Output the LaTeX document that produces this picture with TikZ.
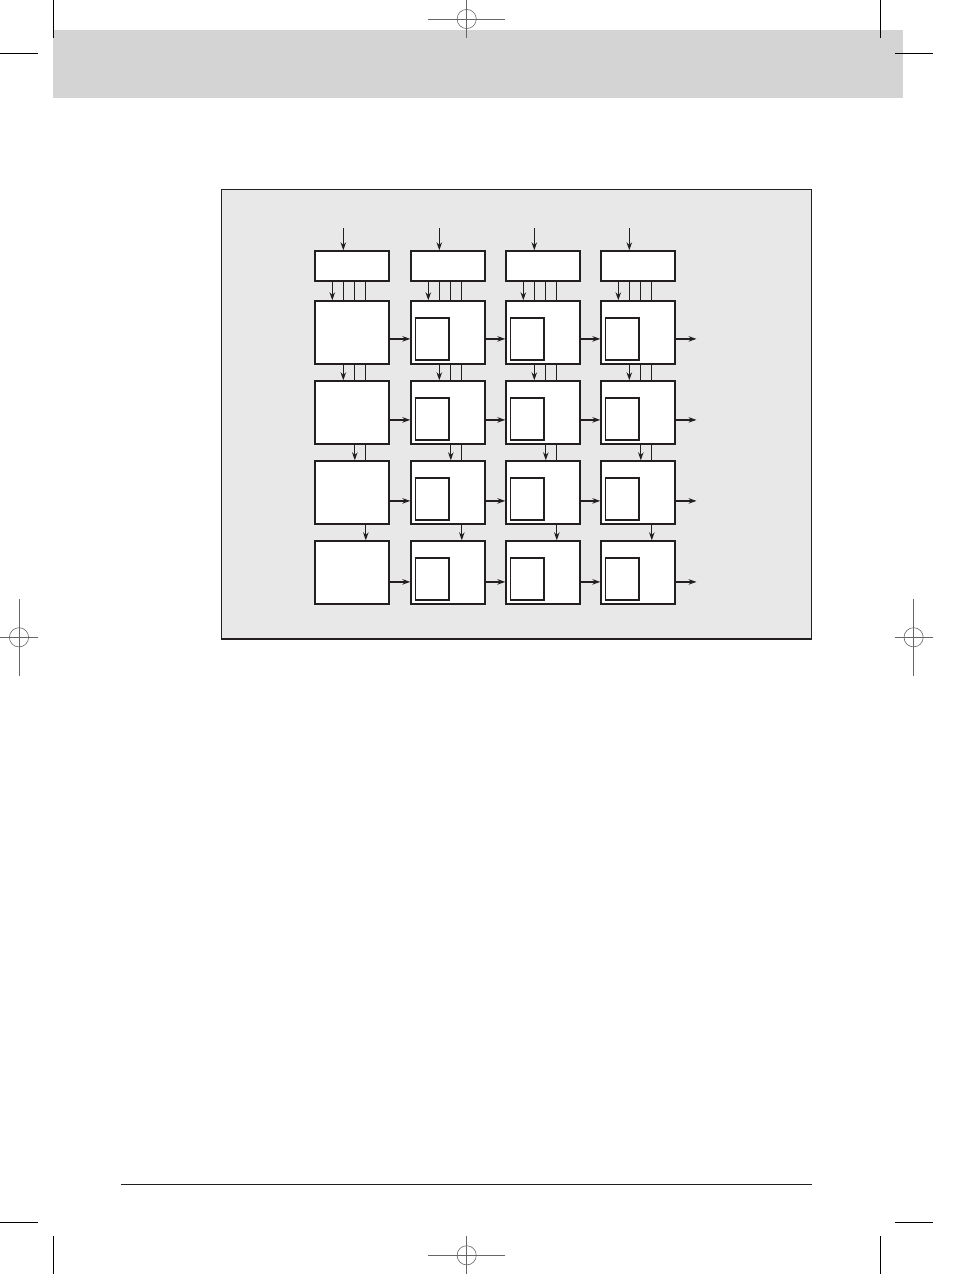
\documentclass[tikz,border=0pt]{standalone}
\usetikzlibrary{arrows.meta,positioning}
\definecolor{bandgray}{gray}{0.83}
\definecolor{panelgray}{gray}{0.91}
\definecolor{ink}{HTML}{231F20}
\tikzset{
  cell/.style={draw=ink,fill=white,line width=1.2pt,minimum width=74pt,minimum height=63pt,inner sep=0pt,anchor=north west},
  head/.style={cell,minimum height=30pt},
  core/.style={draw=ink,fill=white,line width=1.2pt,minimum width=33.5pt,minimum height=42pt,inner sep=0pt,anchor=north west},
  wire/.style={draw=ink,line width=1.2pt},
  flow/.style={wire,-{Stealth[length=8pt,width=5.5pt]}},
  cropline/.style={black,line width=0.6pt},
  target/.style={gray!80!black,line width=0.6pt},
}
\begin{document}
\begin{tikzpicture}[x=1pt,y=-1pt]
    \useasboundingbox (0,0) rectangle (954,1274);
    \fill[bandgray] (53,30) rectangle (903,98);
    \draw[ink,fill=panelgray,line width=1.3pt] (221.3,189.3) rectangle (811.3,639);
    \draw[ink,line width=1pt] (121,1184) -- (812,1184);
    \foreach \x in {53.5,880} {
        \draw[cropline] (\x,0) -- (\x,37.7);
        \draw[cropline] (\x,1236) -- (\x,1274);
    }
    \foreach \y in {53.3,1222} {
        \draw[cropline] (0,\y) -- (37.7,\y);
        \draw[cropline] (894.8,\y) -- (932.5,\y);
    }
    \foreach \y in {19,1255.3} {
        \draw[target] (466.7,\y) circle (9.6);
        \draw[target] (428,\y) -- (505,\y);
        \draw[target] (466.7,\y-19) -- (466.7,\y+19);
    }
    \foreach \x in {19,913.6} {
        \draw[target] (\x,637.3) circle (9.6);
        \draw[target] (\x-19,637.3) -- (\x+19,637.3);
        \draw[target] (\x,599) -- (\x,676);
    }
    \foreach \c/\x in {1/314.3,2/410.3,3/505.3,4/600.3} {
        \node[head] (t\c) at (\x,250.3) {};
        \coordinate (in\c) at (\x+29,228);
        \foreach \r/\y in {1/300.3,2/380.3,3/460.3,4/540.3}
            \node[cell] (c\r\c) at (\x,\y) {};
    }
    \foreach \c in {2,3,4}
        \foreach \r in {1,...,4}
            \node[core] (k\r\c) at ([xshift=4.5pt,yshift=-17pt]c\r\c.north west) {};
    \foreach \c in {1,...,4} {
        \draw[flow] (in\c) -- (in\c |- t\c.north);
        \draw[flow] ([xshift=18pt]t\c.south west) -- ([xshift=18pt]c1\c.north west);
        \foreach \o in {29,40.5,51.5}
            \draw[wire] ([xshift=\o pt]t\c.south west) -- ([xshift=\o pt]c1\c.north west);
        \draw[flow] ([xshift=29pt]c1\c.south west) -- ([xshift=29pt]c2\c.north west);
        \foreach \o in {40.5,51.5}
            \draw[wire] ([xshift=\o pt]c1\c.south west) -- ([xshift=\o pt]c2\c.north west);
        \draw[flow] ([xshift=40.5pt]c2\c.south west) -- ([xshift=40.5pt]c3\c.north west);
        \draw[wire] ([xshift=51.5pt]c2\c.south west) -- ([xshift=51.5pt]c3\c.north west);
        \draw[flow] ([xshift=51.5pt]c3\c.south west) -- ([xshift=51.5pt]c4\c.north west);
    }
    \foreach \r/\s in {1/6.5,2/7.5,3/8.5,4/9.5} {
        \foreach \c/\d in {1/2,2/3,3/4}
            \draw[flow] ([yshift=-\s pt]c\r\c.east) -- ([yshift=-\s pt]c\r\d.west);
        \coordinate (out\r) at ([xshift=21pt,yshift=-\s pt]c\r4.east);
        \draw[flow] ([yshift=-\s pt]c\r4.east) -- (out\r);
    }
\end{tikzpicture}
\end{document}
